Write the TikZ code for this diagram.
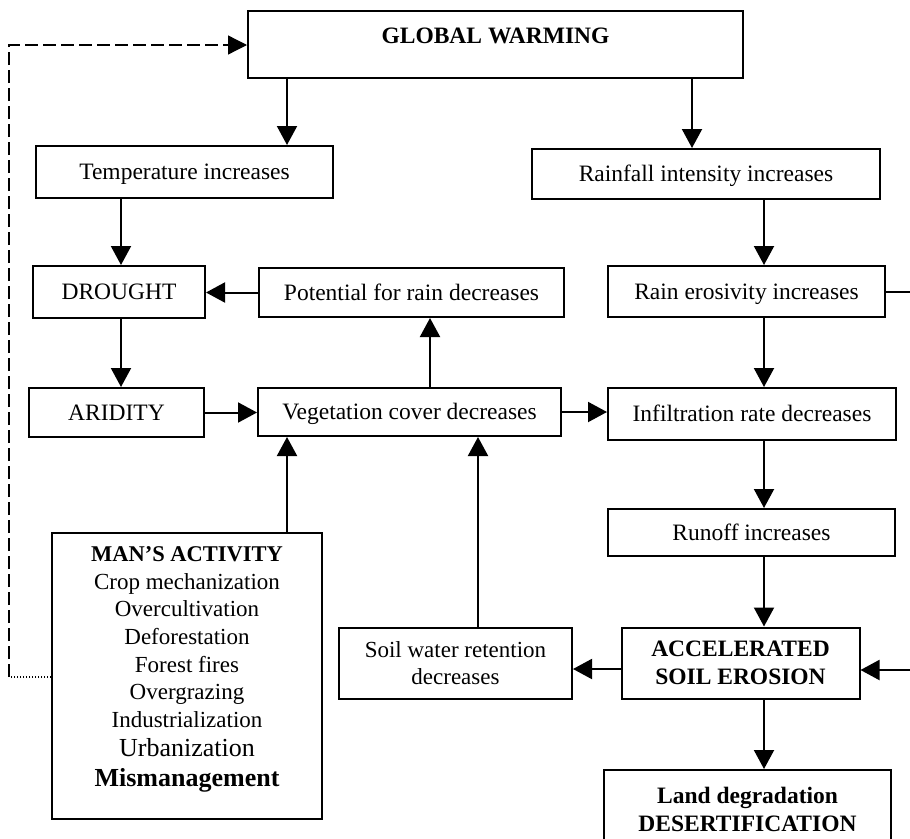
\documentclass[tikz,border=0pt]{standalone}
\usepackage{fontspec}
\setmainfont{Liberation Serif}
\usetikzlibrary{arrows.meta}
\begin{document}
\begin{tikzpicture}[x=1pt,y=-1pt,
  box/.style={draw, line width=2pt, fill=white, inner sep=0pt,
    font=\fontsize{23.5}{28}\selectfont},
  onebox/.style={box, text height=15.5pt, text depth=0pt},
  arr/.style={line width=2pt, -{Triangle[length=19pt,width=20pt]}},
  dashline/.style={line width=1.3pt, dash pattern=on 13pt off 5pt},
  dotline/.style={line width=1.1pt, dash pattern=on 1.5pt off 1.5pt}]
\clip (0,0) rectangle (910,838);
\fill[white] (0,0) rectangle (910,838);

% boxes
\node[box, minimum width=495pt, minimum height=67pt] (gw) at (495.5,44.5) {};
\node[font=\fontsize{23.5}{28}\selectfont\bfseries, inner sep=0pt] (gwt) at (495.5,36) {GLOBAL WARMING};
\node[onebox, minimum width=297pt, minimum height=52pt] (temp) at (184.5,172) {Temperature increases};
\node[onebox, minimum width=348pt, minimum height=50pt] (rain) at (706,174) {Rainfall intensity increases};
\node[onebox, minimum width=172pt, minimum height=52pt] (drought) at (119,292) {DROUGHT};
\node[onebox, minimum width=305pt, minimum height=49pt] (pot) at (411.5,292.5) {Potential for rain decreases};
\node[onebox, minimum width=277pt, minimum height=51pt] (eros) at (746.5,291.5) {Rain erosivity increases};
\node[onebox, minimum width=175pt, minimum height=49pt] (arid) at (116.5,412.5) {ARIDITY};
\node[onebox, minimum width=303pt, minimum height=48pt] (veg) at (409.5,412) {Vegetation cover decreases};
\node[onebox, minimum width=288pt, minimum height=52pt] (infil) at (752,414) {Infiltration rate decreases};
\node[onebox, minimum width=287pt, minimum height=47pt] (runoff) at (751.5,532.5) {Runoff increases};
\node[box, minimum width=238pt, minimum height=71pt, align=center,
  font=\fontsize{23.5}{28}\selectfont\bfseries] (accel) at (740.5,663) {ACCELERATED\\SOIL EROSION};
\node[box, minimum width=233pt, minimum height=71pt, align=center,
  font=\fontsize{23}{27}\selectfont] (soilw) at (455.5,663.5) {Soil water retention\\decreases};
\node[box, minimum width=270pt, minimum height=286pt] (man) at (187,676) {};
\node[align=center, inner sep=0pt, font=\fontsize{23}{27.6}\selectfont] (mant) at (187,669.5)
  {{\fontsize{22.5}{27.6}\selectfont\bfseries MAN’S ACTIVITY}\\
   Crop mechanization\\ Overcultivation\\ Deforestation\\ Forest fires\\
   Overgrazing\\ Industrialization\\[2pt]
   {\fontsize{26}{29}\selectfont Urbanization}\\[2pt]
   {\fontsize{26}{29}\selectfont\bfseries Mismanagement}};
\node[box, minimum width=287pt, minimum height=120pt] (land) at (747.5,830) {};
\node[align=center, inner sep=0pt, font=\fontsize{23.5}{28}\selectfont\bfseries] (landt) at (747.5,809)
  {Land degradation\\DESERTIFICATION};

% connectors
\draw[arr] (287,0 |- gw.south) -- (287,0 |- temp.north);
\draw[arr] (692,0 |- gw.south) -- (692,0 |- rain.north);
\draw[arr] (121,0 |- temp.south) -- (121,0 |- drought.north);
\draw[arr] (764,0 |- rain.south) -- (764,0 |- eros.north);
\draw[arr] (pot.west) -- (drought.east |- pot.west);
\draw[arr] (121,0 |- drought.south) -- (121,0 |- arid.north);
\draw[arr] (430,0 |- veg.north) -- (430,0 |- pot.south);
\draw[arr] (arid.east) -- (veg.west |- arid.east);
\draw[arr] (veg.east) -- (infil.west |- veg.east);
\draw[arr] (764,0 |- eros.south) -- (764,0 |- infil.north);
\draw[arr] (764,0 |- infil.south) -- (764,0 |- runoff.north);
\draw[arr] (764,0 |- runoff.south) -- (764,0 |- accel.north);
\draw[arr] (764,0 |- accel.south) -- (764,0 |- land.north);
\draw[arr] (accel.west |- 0,669) -- (soilw.east |- 0,669);
\draw[arr] (478,0 |- soilw.north) -- (478,0 |- veg.south);
\draw[arr] (287,0 |- man.north) -- (287,0 |- veg.south);

\coordinate (rc) at (930,292);
\draw[arr] (eros.east |- rc) -- (rc) |- (accel.east |- 0,670);

\coordinate (lc) at (9,677);
\coordinate (tc) at (9,45);
\draw[dotline] (man.west |- lc) -- (lc);
\draw[dashline, -{Triangle[length=19pt,width=19pt]}] (lc) -- (tc) -- (gw.west |- tc);
\end{tikzpicture}
\end{document}
